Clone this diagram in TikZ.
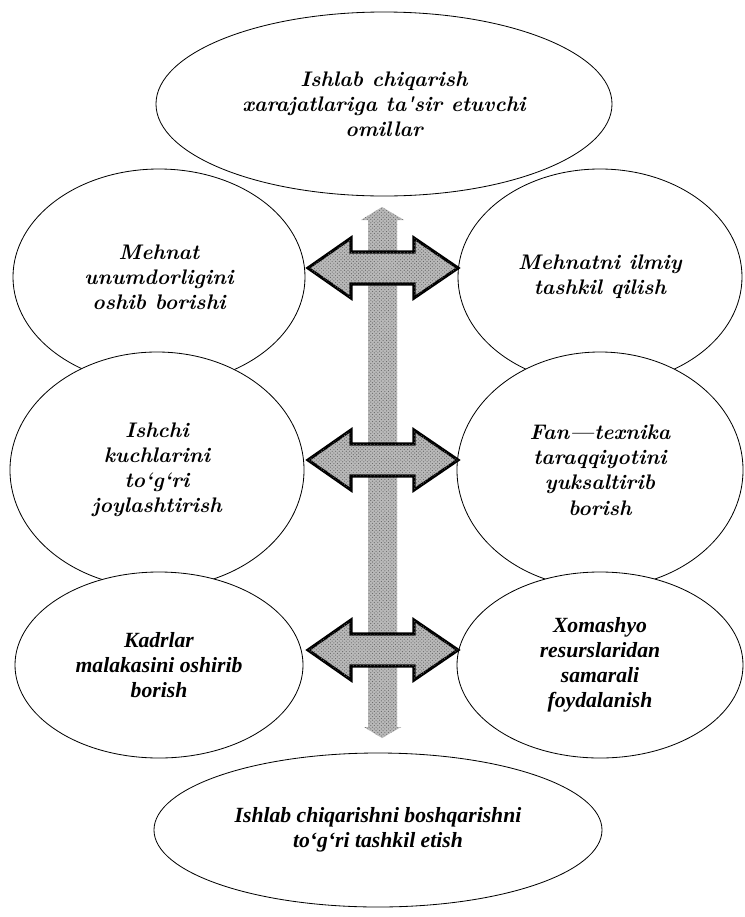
\documentclass[tikz,border=0pt]{standalone}
\usepackage{fontspec}
\newfontfamily\timesf{Liberation Serif}
\usetikzlibrary{shapes.geometric,patterns}
\newcommand\lmtext{\fontsize{18}{21.5}\selectfont\bfseries\itshape}
\newcommand\tmtext{\timesf\fontsize{18.5}{21.5}\selectfont\bfseries\itshape}
\begin{document}
\begin{tikzpicture}[x=0.03cm,y=-0.03cm,
  ell/.style={ellipse, draw=black, line width=0.7pt, fill=white, inner sep=0pt, align=center, font=\lmtext},
  ellt/.style={ell, font=\tmtext},
  speck/.style={fill=gray!55, postaction={pattern=crosshatch dots, pattern color=black!60}},
  dblarr/.style={draw=black, line width=2.6pt, line join=miter, speck}
]
\path[use as bounding box, fill=white] (0,0) rectangle (744,917);

% ellipses
\node[ell, minimum width=13.68cm, minimum height=5.52cm] (top) at (384,104)
  {Ishlab chiqarish\\xarajatlariga ta\textquotesingle sir etuvchi\\omillar};
\node[ell, minimum width=8.76cm, minimum height=6.48cm] (tl) at (159,277)
  {Mehnat\\unumdorligini\\oshib borishi};
\node[ell, minimum width=8.52cm, minimum height=6.48cm] (tr) at (600,277)
  {Mehnatni ilmiy\\tashkil qilish};
\node[ell, minimum width=8.82cm, minimum height=7.08cm] (ml) at (157,470)
  {Ishchi\\kuchlarini\\to‘g‘ri\\joylashtirish};
\node[ell, minimum width=8.58cm, minimum height=7.08cm] (mr) at (600,470)
  {Fan—texnika\\taraqqiyotini\\yuksaltirib\\borish};
\node[ellt, minimum width=8.64cm, minimum height=5.58cm] (bl) at (159,665)
  {Kadrlar\\malakasini oshirib\\borish};
\node[ellt, minimum width=8.58cm, minimum height=5.58cm] (br) at (600,665)
  {Xomashyo\\resurslaridan\\samarali\\foydalanish};
\node[ellt, minimum width=13.44cm, minimum height=4.62cm] (bot) at (378,830)
  {Ishlab chiqarishni boshqarishni\\to‘g‘ri tashkil etish};

% central vertical arrow
\coordinate (vtop) at (382,207);
\coordinate (vbot) at (382,738);
\path[speck] (vtop) -- ++(22,13) -- ++(-7,0) |- ([shift={(19,-11)}]vbot) -- (vbot)
  -- ++(-18,-11) -- ++(4,0) |- ([shift={(-21,13)}]vtop) -- cycle;

% horizontal double arrows
\foreach \n/\y in {a/268,b/460,c/650}{
  \coordinate (\n) at (383,\y);
  \draw[dblarr] ([shift={(-75,0)}]\n) -- ++(43,-30) -- ++(0,14) -- ++(63,0) -- ++(0,-14)
     -- ++(44,30) -- ++(-44,30) -- ++(0,-14) -- ++(-63,0) -- ++(0,14) -- cycle;
}
\end{tikzpicture}
\end{document}
